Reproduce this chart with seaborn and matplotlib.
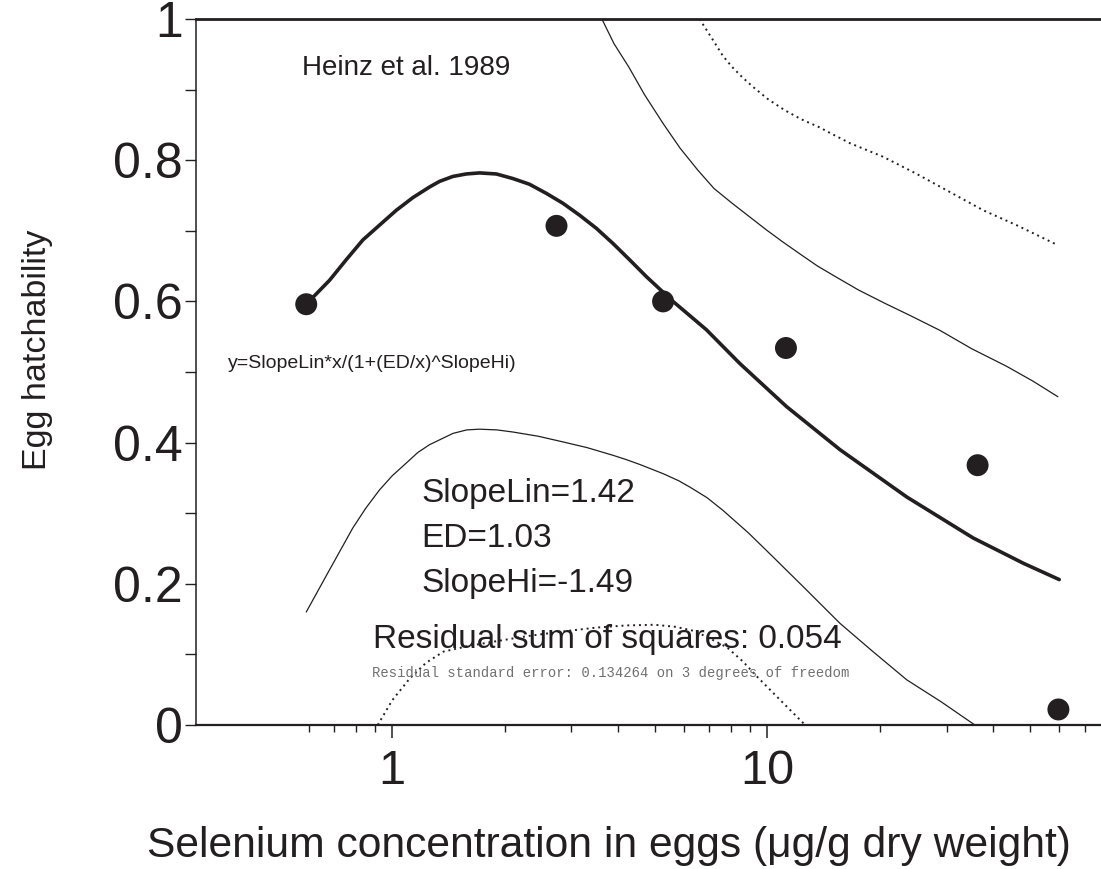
# --- IMPORTS ---
import matplotlib
matplotlib.use("Agg")
import matplotlib.pyplot as plt
import matplotlib.ticker as mticker
import seaborn as sns

# --- DATA ---
obs_x = [0.59, 2.74, 5.27, 11.2, 36.3, 59.6]
obs_y = [0.596, 0.707, 0.600, 0.534, 0.368, 0.022]

fit_x = [0.59, 0.681, 0.754, 0.835, 0.925, 1.025, 1.135, 1.257, 1.337, 1.451, 1.575,
         1.709, 1.894, 2.097, 2.32, 2.575, 2.85, 3.159, 3.5, 3.876, 4.29, 4.758, 5.60,
         6.87, 8.44, 11.24, 15.6, 23.5, 35.3, 48.1, 59.9]
fit_y = [0.596, 0.630, 0.659, 0.687, 0.708, 0.729, 0.747, 0.762, 0.770, 0.777, 0.7805,
         0.782, 0.7805, 0.774, 0.766, 0.753, 0.739, 0.722, 0.7035, 0.682, 0.659, 0.635,
         0.600, 0.560, 0.512, 0.451, 0.390, 0.323, 0.265, 0.229, 0.206]

upper_x = [3.62, 3.9, 4.27, 4.7, 5.27, 5.85, 6.52, 7.2, 8.05, 9.95, 11.0, 12.3, 13.6,
           15.3, 17.5, 20.6, 24.0, 28.8, 35.0, 43.4, 51.0, 59.4]
upper_y = [1.0, 0.965, 0.932, 0.893, 0.852, 0.817, 0.786, 0.760, 0.739, 0.701, 0.684,
           0.666, 0.650, 0.634, 0.616, 0.597, 0.580, 0.559, 0.533, 0.508, 0.487, 0.465]

upper_dot_x = [6.59, 7.24, 7.6, 8.05, 8.55, 9.14, 10.0, 11.1, 12.3, 13.7, 15.0, 16.6,
               20.3, 24.9, 30.6, 37.6, 46.1, 59.2]
upper_dot_y = [1.0, 0.966, 0.948, 0.932, 0.918, 0.904, 0.887, 0.871, 0.858, 0.847, 0.836,
               0.824, 0.805, 0.781, 0.755, 0.729, 0.708, 0.680]

lower_x = [0.59, 0.681, 0.785, 0.85, 0.925, 1.0, 1.09, 1.17, 1.257, 1.451, 1.58, 1.709,
           1.9, 2.097, 2.45, 2.85, 3.3, 3.876, 4.2, 4.57, 5.27, 5.8, 6.21, 6.9, 7.61,
           8.9, 10.35, 12.5, 15.6, 19.0, 23.5, 29.0, 35.7]
lower_y = [0.160, 0.220, 0.279, 0.307, 0.333, 0.353, 0.371, 0.386, 0.397, 0.413, 0.418,
           0.419, 0.418, 0.415, 0.409, 0.401, 0.393, 0.382, 0.376, 0.369, 0.356, 0.346,
           0.337, 0.322, 0.304, 0.272, 0.238, 0.195, 0.144, 0.105, 0.064, 0.033, 0.0]

lower_dot_x = [0.915, 1.0, 1.11, 1.23, 1.37, 1.6, 1.86, 2.3, 2.8, 3.5, 4.2, 5.0, 5.7,
               6.4, 7.0, 7.8, 8.6, 9.4, 10.6, 12.6]
lower_dot_y = [0.0, 0.035, 0.065, 0.088, 0.104, 0.112, 0.118, 0.126, 0.132, 0.138, 0.141,
               0.142, 0.139, 0.133, 0.123, 0.110, 0.090, 0.068, 0.040, 0.0]

x_major = [1, 10]
x_major_labels = ["1", "10"]
x_minor = [0.6, 0.7, 0.8, 0.9, 2, 3, 4, 5, 6, 7, 8, 9, 20, 30, 40, 50, 60, 70]
y_major = [0, 0.2, 0.4, 0.6, 0.8, 1.0]
y_major_labels = ["0", "0.2", "0.4", "0.6", "0.8", "1"]
y_minor = [0.1, 0.3, 0.5, 0.7, 0.9]

INK = "#231f20"

# --- STYLE ---
sns.set_style("ticks")
plt.rcParams["font.family"] = ["Liberation Sans", "DejaVu Sans"]

fig = plt.figure(figsize=(11.01, 8.69), dpi=100)
ax = fig.add_axes([196 / 1101, 1 - 725 / 869, 1 - 196 / 1101, (725 - 19) / 869])

# --- CURVES ---
dots = (0, (1, 2))
sns.lineplot(x=upper_x, y=upper_y, ax=ax, color=INK, lw=0.9, sort=False, estimator=None)
sns.lineplot(x=lower_x, y=lower_y, ax=ax, color=INK, lw=0.9, sort=False, estimator=None)
sns.lineplot(x=upper_dot_x, y=upper_dot_y, ax=ax, color=INK, lw=1.4, linestyle=dots,
             sort=False, estimator=None)
sns.lineplot(x=lower_dot_x, y=lower_dot_y, ax=ax, color=INK, lw=1.4, linestyle=dots,
             sort=False, estimator=None)
sns.lineplot(x=fit_x, y=fit_y, ax=ax, color=INK, lw=2.6, sort=False, estimator=None)
sns.scatterplot(x=obs_x, y=obs_y, ax=ax, color=INK, s=250, edgecolor="none", zorder=5)
for ln in ax.lines:
    ln.set_solid_joinstyle("round")

# --- AXES ---
ax.set_xscale("log")
ax.set_xlim(0.3, 77.4)
ax.set_ylim(0, 1)
ax.xaxis.set_major_locator(mticker.FixedLocator(x_major))
ax.xaxis.set_major_formatter(mticker.FixedFormatter(x_major_labels))
ax.xaxis.set_minor_locator(mticker.FixedLocator(x_minor))
ax.xaxis.set_minor_formatter(mticker.NullFormatter())
ax.yaxis.set_major_locator(mticker.FixedLocator(y_major))
ax.yaxis.set_major_formatter(mticker.FixedFormatter(y_major_labels))
ax.yaxis.set_minor_locator(mticker.FixedLocator(y_minor))

ax.tick_params(axis="x", which="major", length=9, width=1.1, pad=8, labelsize=35, colors=INK)
ax.tick_params(axis="x", which="minor", length=5, width=1.0, colors=INK)
ax.tick_params(axis="y", which="both", length=8, width=1.0, pad=1.5, labelsize=36, colors=INK)

sns.despine(ax=ax, top=False, right=True)
ax.spines["top"].set_linewidth(2.0)
ax.spines["bottom"].set_linewidth(1.6)
ax.spines["left"].set_linewidth(1.1)
for s in ax.spines.values():
    s.set_color(INK)

ax.set_xlabel("Selenium concentration in eggs (\u03bcg/g dry weight)", fontsize=30.7,
              color=INK, va="baseline")
ax.xaxis.set_label_coords(0.456, -0.1865)
ax.set_ylabel("Egg hatchability", fontsize=24.5, color=INK, va="center")
ax.yaxis.set_label_coords(-0.175, 0.531)

# --- ANNOTATIONS ---
ax.text(0.576, 0.921, "Heinz et al. 1989", fontsize=20, color=INK, va="baseline")
ax.text(0.364, 0.506, "y=SlopeLin*x/(1+(ED/x)^SlopeHi)", fontsize=14, color=INK,
        va="baseline")
ax.text(1.195, 0.316, "SlopeLin=1.42", fontsize=24, color=INK, va="baseline")
ax.text(1.195, 0.2525, "ED=1.03", fontsize=24, color=INK, va="baseline")
ax.text(1.195, 0.188, "SlopeHi=-1.49", fontsize=24, color=INK, va="baseline")
ax.text(0.888, 0.1086, "Residual sum of squares: 0.054", fontsize=24, color=INK,
        va="baseline")
ax.text(0.884, 0.0684, "Residual standard error: 0.134264 on 3 degrees of freedom",
        fontsize=10, color="#707070", va="baseline", family="Liberation Mono")

fig.savefig("out.png", dpi=100)
plt.close(fig)
